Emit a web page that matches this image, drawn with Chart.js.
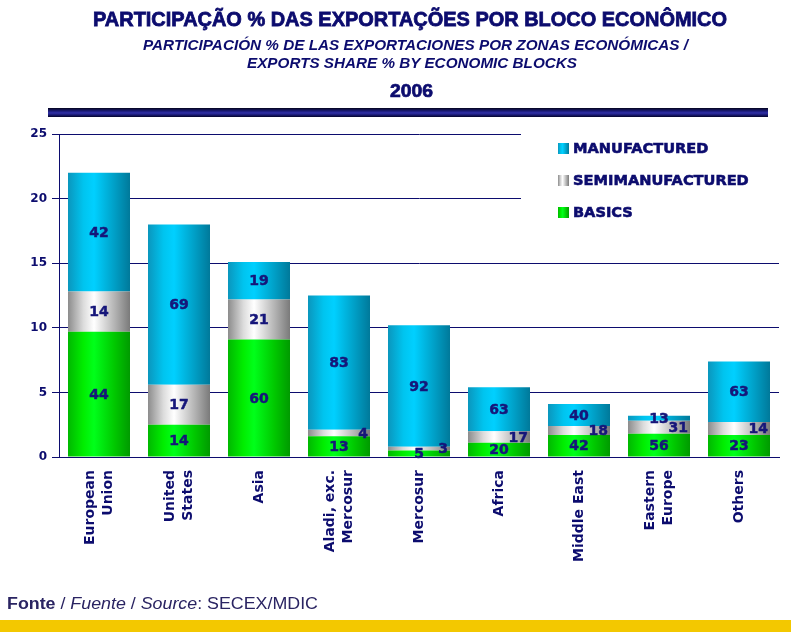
<!DOCTYPE html>
<html>
<head>
<meta charset="utf-8">
<script src="https://cdn.jsdelivr.net/npm/chart.js@4.4.1/dist/chart.umd.min.js"></script>
<style>
  html,body{margin:0;padding:0;background:#fff;}
  #wrap{position:relative;width:791px;height:632px;overflow:hidden;background:#fff;}
  #wrap canvas{position:absolute;left:0;top:0;}
  .t{position:absolute;white-space:nowrap;transform-origin:0 0;color:#0c0c6e;line-height:1;}
  #bar{position:absolute;left:48px;top:108px;width:720px;height:9px;
       background:linear-gradient(to bottom,#04041e 0%,#1c1c7a 35%,#3030a8 55%,#16166a 80%,#05052a 100%);}
  #yellow{position:absolute;left:0;top:620px;width:791px;height:12px;background:#F3C800;}
</style>
</head>
<body>
<div id="wrap">
  <canvas id="c" width="791" height="632"></canvas>
  <div class="t" id="t1" data-x="93" data-y="7" data-w="634" style="font:bold 21px 'Liberation Sans';-webkit-text-stroke:0.8px #0c0c6e;">PARTICIPAÇÃO % DAS EXPORTAÇÕES POR BLOCO ECONÔMICO</div>
  <div class="t" id="t2" data-x="143" data-y="37" data-w="545" style="font:italic bold 14.5px 'Liberation Sans';">PARTICIPACIÓN % DE LAS EXPORTACIONES POR ZONAS ECONÓMICAS /</div>
  <div class="t" id="t3" data-x="247" data-y="55" data-w="330" style="font:italic bold 14.5px 'Liberation Sans';">EXPORTS SHARE % BY ECONOMIC BLOCKS</div>
  <div class="t" id="t4" data-x="390" data-y="81" data-w="43" style="font:bold 18px 'Liberation Sans';-webkit-text-stroke:0.7px #0c0c6e;">2006</div>
  <div id="bar"></div>
  <div class="t" id="ft" data-x="7" data-y="595" data-w="311" style="font:16px 'Liberation Sans';color:#2a2462;"><b>Fonte</b> / <i>Fuente</i> / <i>Source</i>: SECEX/MDIC</div>
  <div id="yellow"></div>
</div>
<script>
// ---- data ----
const categories = [
  ['European','Union'], ['United','States'], 'Asia', ['Aladi, exc.','Mercosur'],
  'Mercosur', 'Africa', 'Middle East', ['Eastern','Europe'], 'Others'
];
const seriesNames = ['BASICS', 'SEMIMANUFACTURED', 'MANUFACTURED'];
// segment heights (share of total exports, %)
const basics           = [9.7, 2.5, 9.1, 1.6, 0.5, 1.1, 1.7, 1.8, 1.7];
const semimanufactured = [3.1, 3.1, 3.1, 0.5, 0.3, 0.9, 0.7, 1.0, 1.0];
const manufactured     = [9.2, 12.4, 2.9, 10.4, 9.4, 3.4, 1.7, 0.4, 4.7];
// printed labels (share within each block, %)
const basicsPct   = [44, 14, 60, 13, 5, 20, 42, 56, 23];
const semiPct     = [14, 17, 21, 4, 3, 17, 18, 31, 14];
const manufPct    = [42, 69, 19, 83, 92, 63, 40, 13, 63];
const yTicks = [0, 5, 10, 15, 20, 25];

// ---- title text fitting ----
document.querySelectorAll('.t').forEach(el => {
  el.style.display = 'inline-block';
  const w = el.getBoundingClientRect().width;
  const tw = +el.dataset.w;
  el.style.left = el.dataset.x + 'px';
  el.style.top = el.dataset.y + 'px';
  el.style.transform = 'scaleX(' + (tw / w) + ')';
});

const NAVY = '#0c0c6e';
const LABEL = '#16167a';
const BAR_PCT = 0.775;
const X_FONT = 14, X_LH = 1.3;

const palettes = {
  BASICS: ['#00b800', '#00ee00', '#00ff1a', '#00c800', '#009a00'],
  SEMIMANUFACTURED: ['#8c8c8c', '#dcdcdc', '#ffffff', '#b4b4b4', '#7a7a7a'],
  MANUFACTURED: ['#0a96bd', '#00c4ef', '#00d0ff', '#009fc6', '#00799a']
};
function makeGrad(ctx, x0, x1, stops) {
  const g = ctx.createLinearGradient(x0, 0, x1, 0);
  g.addColorStop(0, stops[0]);
  g.addColorStop(0.25, stops[1]);
  g.addColorStop(0.42, stops[2]);
  g.addColorStop(0.75, stops[3]);
  g.addColorStop(1, stops[4]);
  return g;
}
function barFill(name) {
  const stops = palettes[name];
  return (c) => {
    const ch = c.chart;
    if (!ch.chartArea || !ch.scales.x) return stops[1];
    const xs = ch.scales.x;
    const cx = xs.getPixelForValue(c.dataIndex);
    const w = xs.width / categories.length * BAR_PCT;
    return makeGrad(ch.ctx, cx - w / 2, cx + w / 2, stops);
  };
}

const pctLabels = [basicsPct, semiPct, manufPct];

const labelPlugin = {
  id: 'segLabels',
  afterDatasetsDraw(chart) {
    const ctx = chart.ctx;
    ctx.save();
    ctx.font = "bold 14px 'DejaVu Sans'";
    ctx.fillStyle = LABEL;
    ctx.strokeStyle = LABEL;
    ctx.lineWidth = 0.5;
    ctx.lineJoin = 'round';
    ctx.textBaseline = 'middle';
    chart.data.datasets.forEach((ds, di) => {
      const meta = chart.getDatasetMeta(di);
      meta.data.forEach((el, i) => {
        const h = Math.abs(el.base - el.y);
        const cy = (el.y + el.base) / 2 + 1;
        const txt = String(pctLabels[di][i]);
        let x;
        if (di === 1 && h < 20) {
          ctx.textAlign = 'right';
          x = el.x + el.width / 2 - 2;
        } else {
          ctx.textAlign = 'center';
          x = el.x;
        }
        ctx.fillText(txt, x, cy);
        ctx.strokeText(txt, x, cy);
      });
    });
    ctx.restore();
  }
};

const legendPlugin = {
  id: 'boxLegend',
  beforeDatasetsDraw(chart) {
    const ctx = chart.ctx;
    ctx.save();
    ctx.fillStyle = '#ffffff';
    ctx.fillRect(521, chart.chartArea.top - 2, 791 - 521, 240 - chart.chartArea.top);
    const items = [['MANUFACTURED', 149], ['SEMIMANUFACTURED', 181], ['BASICS', 213]];
    ctx.font = "bold 14.6px 'DejaVu Sans'";
    ctx.textBaseline = 'middle';
    ctx.textAlign = 'left';
    ctx.lineWidth = 0.6;
    ctx.strokeStyle = NAVY;
    items.forEach(([name, y]) => {
      ctx.fillStyle = makeGrad(ctx, 558, 569, palettes[name]);
      ctx.fillRect(558, y - 6, 11, 11);
      ctx.fillStyle = NAVY;
      ctx.fillText(name, 573, y);
      ctx.strokeText(name, 573, y);
    });
    ctx.restore();
  }
};

// centre multi-line rotated category labels on their tick
const centreLabels = {
  id: 'centreLabels',
  afterLayout(chart) {
    const s = chart.scales.x;
    s._labelItems = null;
    const items = s.getLabelItems();
    const lh = X_FONT * X_LH;
    items.forEach(it => {
      const n = Array.isArray(it.label) ? it.label.length : 1;
      if (n > 1) it.options.translation[0] -= (n - 1) * lh / 2;
    });
  }
};

new Chart(document.getElementById('c'), {
  type: 'bar',
  data: {
    labels: categories,
    datasets: [
      { label: seriesNames[0], data: basics, backgroundColor: barFill('BASICS') },
      { label: seriesNames[1], data: semimanufactured, backgroundColor: barFill('SEMIMANUFACTURED') },
      { label: seriesNames[2], data: manufactured, backgroundColor: barFill('MANUFACTURED') }
    ]
  },
  options: {
    responsive: false,
    animation: false,
    datasets: { bar: { barPercentage: BAR_PCT, categoryPercentage: 1, borderWidth: 0 } },
    layout: { autoPadding: false, padding: { left: 0, top: 134, right: 12, bottom: 55 } },
    plugins: { legend: { display: false }, tooltip: { enabled: false }, title: { display: false } },
    scales: {
      x: {
        stacked: true,
        afterFit: (s) => { s.height = 120; },
        grid: { display: false, drawTicks: false },
        border: { display: true, color: NAVY, width: 1 },
        ticks: {
          maxRotation: 90, minRotation: 90, autoSkip: false, padding: 13,
          color: NAVY, font: { family: 'DejaVu Sans', weight: 'bold', size: X_FONT, lineHeight: X_LH }
        }
      },
      y: {
        stacked: true, min: 0, max: 25,
        afterFit: (s) => { s.width = 59; },
        afterBuildTicks: (s) => { s.ticks = yTicks.map(v => ({ value: v })); },
        grid: { color: NAVY, lineWidth: 1, tickLength: 7, drawTicks: true },
        border: { display: true, color: NAVY, width: 1 },
        ticks: {
          padding: 5, color: NAVY,
          font: { family: 'DejaVu Sans', weight: 'bold', size: 12 }
        }
      }
    }
  },
  plugins: [legendPlugin, labelPlugin, centreLabels]
});
</script>
</body>
</html>
